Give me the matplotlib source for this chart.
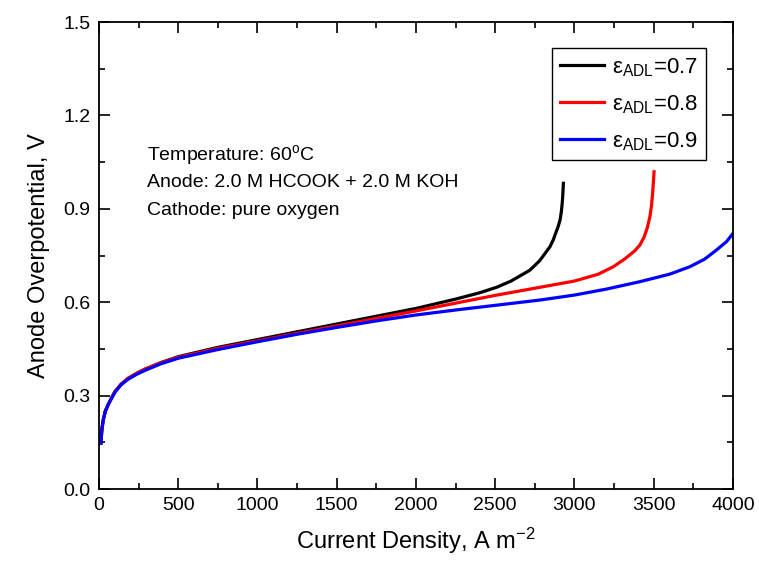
import matplotlib
matplotlib.use("Agg")
import matplotlib.pyplot as plt
from matplotlib.ticker import MultipleLocator, FormatStrFormatter

plt.rcParams["font.family"] = ["Liberation Sans", "DejaVu Sans"]
plt.rcParams["mathtext.fontset"] = "custom"
plt.rcParams["mathtext.rm"] = "Liberation Sans"
plt.rcParams["mathtext.it"] = "Liberation Sans:italic"

# polarisation curves for three ADL porosities (current density, A m^-2 / overpotential, V)
j_start = [12, 18, 27, 40, 59, 80, 101, 140, 185, 240, 290, 390, 500, 750, 1000]

j_07 = j_start + [1250, 1500, 1750, 2000, 2250, 2400, 2509, 2600, 2719, 2780, 2845,
                  2866, 2880, 2895, 2909, 2917, 2923, 2927, 2930]
eta_07 = [0.147, 0.19, 0.222, 0.25, 0.272, 0.293, 0.313, 0.337, 0.356, 0.372, 0.385,
          0.406, 0.425, 0.455, 0.48,
          0.505, 0.53, 0.555, 0.58, 0.61, 0.63, 0.648, 0.668, 0.703, 0.733, 0.778,
          0.80, 0.82, 0.84, 0.864, 0.89, 0.92, 0.95, 0.982]

j_08 = j_start + [1250, 1500, 1750, 2000, 2250, 2500, 2750, 3000, 3150, 3245, 3320,
                  3380, 3413, 3440, 3460, 3476, 3486, 3493, 3498, 3502]
eta_08 = [0.147, 0.19, 0.222, 0.25, 0.272, 0.293, 0.313, 0.337, 0.356, 0.372, 0.385,
          0.405, 0.423, 0.452, 0.476,
          0.5, 0.524, 0.548, 0.572, 0.597, 0.622, 0.645, 0.668, 0.69, 0.714, 0.74,
          0.765, 0.784, 0.81, 0.84, 0.875, 0.91, 0.95, 0.985, 1.019]

j_09 = j_start + [1250, 1500, 1750, 2000, 2250, 2500, 2782, 3000, 3200, 3413, 3600,
                  3728, 3820, 3897, 3960, 4000]
eta_09 = [0.147, 0.19, 0.222, 0.25, 0.272, 0.292, 0.311, 0.335, 0.353, 0.369, 0.381,
          0.402, 0.42, 0.448, 0.473,
          0.497, 0.519, 0.54, 0.559, 0.575, 0.59, 0.607, 0.623, 0.642, 0.666, 0.69,
          0.714, 0.738, 0.768, 0.795, 0.821]

labels = [r"ε$_{\mathrm{ADL}}$=0.7", r"ε$_{\mathrm{ADL}}$=0.8", r"ε$_{\mathrm{ADL}}$=0.9"]
colors = ["black", "red", "blue"]

fig = plt.figure(figsize=(7.59, 5.65), dpi=100)
ax = fig.add_axes([0.1304, 0.1345, 0.8353, 0.8265])

for x, y, lab, c in zip([j_07, j_08, j_09], [eta_07, eta_08, eta_09], labels, colors):
    ax.plot(x, y, color=c, lw=2.3, label=lab, solid_joinstyle="round")

ax.set_xlim(0, 4000)
ax.set_ylim(0, 1.5)
ax.xaxis.set_major_locator(MultipleLocator(500))
ax.xaxis.set_minor_locator(MultipleLocator(250))
ax.yaxis.set_major_locator(MultipleLocator(0.3))
ax.yaxis.set_minor_locator(MultipleLocator(0.15))
ax.yaxis.set_major_formatter(FormatStrFormatter("%.1f"))
ax.tick_params(which="both", direction="in", top=True, right=True, width=1.2)
ax.tick_params(which="major", length=8, labelsize=14, pad=6)
ax.tick_params(which="minor", length=4)
for s in ax.spines.values():
    s.set_linewidth(1.3)

ax.set_xlabel(r"Current Density, A m$^{\mathrm{-2}}$", fontsize=17, labelpad=8)
ax.set_ylabel("Anode Overpotential, V", fontsize=17, labelpad=10)

ax.text(303, 1.073, r"Temperature: 60$^{\mathrm{o}}$C", fontsize=14, va="center")
ax.text(303, 0.986, "Anode: 2.0 M HCOOK + 2.0 M KOH", fontsize=14, va="center")
ax.text(303, 0.896, "Cathode: pure oxygen", fontsize=14, va="center")

leg = ax.legend(loc="upper right", bbox_to_anchor=(0.957, 0.944), borderaxespad=0,
                fontsize=16, handlelength=2.0, handletextpad=0.35, borderpad=0.35,
                labelspacing=0.65, fancybox=False, framealpha=1)
leg.get_frame().set_edgecolor("black")
leg.get_frame().set_linewidth(1.0)

plt.savefig("out.png", dpi=100)
plt.close()
